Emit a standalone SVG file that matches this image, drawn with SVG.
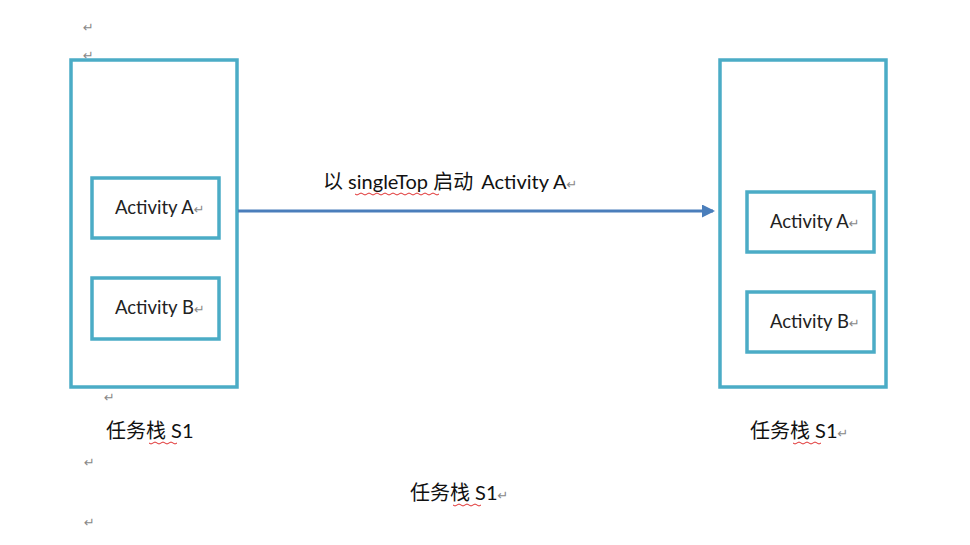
<svg xmlns="http://www.w3.org/2000/svg" width="970" height="545" viewBox="0 0 970 545">
<style>
.outer{fill:#fff;stroke:#4bacc6;stroke-width:3.5}
.inner{fill:#fff;stroke:#4bacc6;stroke-width:3.5}
.lbl{font-family:Lato,"Open Sans","Liberation Sans",sans-serif;font-size:18.5px;fill:#222}
.cap{font-family:Lato,"Noto Sans CJK SC",sans-serif;font-size:20px;fill:#111}
.pm{font-family:"DejaVu Sans",sans-serif;font-size:13px;fill:#888}
.sq{fill:none;stroke:#e03030;stroke-width:1}
</style>
<defs>
<marker id="ah" markerWidth="13" markerHeight="13" refX="11" refY="6.5" orient="auto" markerUnits="userSpaceOnUse">
<path d="M0,0 L13,6.5 L0,13 Z" fill="#4a7ebb"/>
</marker>
</defs>
<rect width="970" height="545" fill="#fff"/>
<g id="marks">
<text class="pm" x="83" y="32">↵</text>
<text class="pm" x="83" y="60">↵</text>
<text class="pm" x="104" y="402">↵</text>
<text class="pm" x="84" y="467">↵</text>
<text class="pm" x="84" y="527">↵</text>
</g>
<g id="stack-left">
<rect class="outer" x="71" y="60" width="166" height="327"/>
</g>
<g id="left-a">
<rect class="inner" x="92" y="178" width="127" height="60"/>
<text class="lbl" x="115" y="214">Activity A<tspan class="pm" dx="0">↵</tspan></text>
</g>
<g id="left-b">
<rect class="inner" x="92" y="278" width="127" height="61"/>
<text class="lbl" x="115" y="314">Activity B<tspan class="pm" dx="0">↵</tspan></text>
</g>
<g id="stack-right">
<rect class="outer" x="720" y="60" width="166" height="327"/>
</g>
<g id="right-a">
<rect class="inner" x="747" y="192" width="127" height="60"/>
<text class="lbl" x="770" y="228">Activity A<tspan class="pm" dx="0">↵</tspan></text>
</g>
<g id="right-b">
<rect class="inner" x="747" y="292" width="127" height="60"/>
<text class="lbl" x="770" y="328">Activity B<tspan class="pm" dx="0">↵</tspan></text>
</g>
<g id="connectors">
<line x1="238" y1="211" x2="713" y2="211" stroke="#4a7ebb" stroke-width="3" marker-end="url(#ah)"/>
</g>
<g id="labels">
<text class="cap" x="323" y="189">以 singleTop 启动 <tspan dx="3">Activity A</tspan><tspan class="pm" dx="0">↵</tspan></text>
<path class="sq" d="M355,194 q2,2 4,0 t4,0 t4,0 t4,0 t4,0 t4,0 t4,0 t4,0 t4,0 t4,0 t4,0 t4,0 t4,0 t4,0 t4,0 t4,0 t4,0 t4,0 t4,0 t4,0 t4,0"/>
<text class="cap" x="106" y="438">任务栈 S1</text>
<path class="sq" d="M149,443 q2,2 4,0 t4,0 t4,0 t4,0 t4,0 t4,0 t4,0"/>
<text class="cap" x="750" y="438">任务栈 S1<tspan class="pm" dx="0">↵</tspan></text>
<path class="sq" d="M793,443 q2,2 4,0 t4,0 t4,0 t4,0 t4,0 t4,0 t4,0"/>
<text class="cap" x="410" y="500">任务栈 S1<tspan class="pm" dx="0">↵</tspan></text>
<path class="sq" d="M453,505 q2,2 4,0 t4,0 t4,0 t4,0 t4,0 t4,0 t4,0"/>
</g>
</svg>
